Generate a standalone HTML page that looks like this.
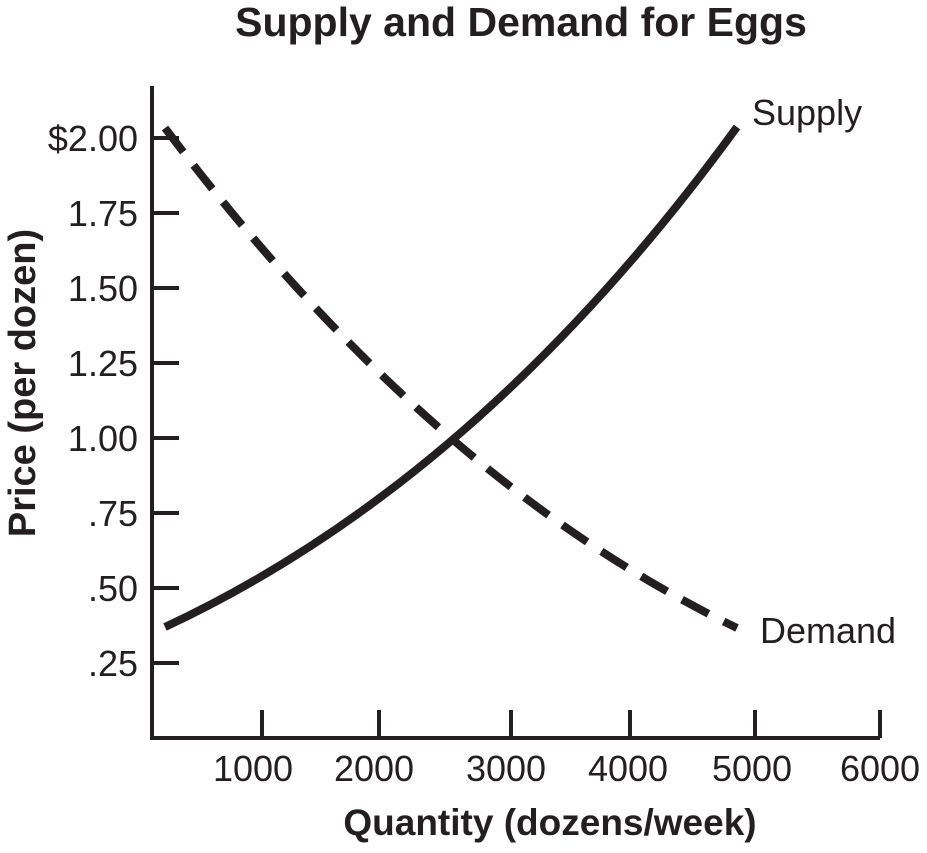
<!DOCTYPE html>
<html><head><style>body{margin:0;background:#fff}</style></head><body>
<svg width="927" height="848" xmlns="http://www.w3.org/2000/svg" font-family="Liberation Sans, Arial, sans-serif" fill="#231f20">
<text x="521" y="36" font-size="41" font-weight="bold" text-anchor="middle">Supply and Demand for Eggs</text>
<g stroke="#231f20" stroke-width="4" fill="none">
<path d="M152 86 V738 H880"/>
<path d="M152 138H179M152 213H179M152 288H179M152 363H179M152 438H179M152 513H179M152 588H179M152 663H179"/>
<path d="M262 738V710M379 738V710M511 738V710M630 738V710M755 738V710M880 738V710"/>
</g>
<g font-size="36" text-anchor="end">
<text x="138" y="151">$2.00</text><text x="138" y="226">1.75</text><text x="138" y="301">1.50</text>
<text x="138" y="376">1.25</text><text x="138" y="451">1.00</text><text x="138" y="526">.75</text>
<text x="138" y="601">.50</text><text x="138" y="676">.25</text>
</g>
<g font-size="36" text-anchor="middle">
<text x="253" y="781">1000</text><text x="374" y="781">2000</text><text x="506" y="781">3000</text>
<text x="628" y="781">4000</text><text x="752" y="781">5000</text><text x="880" y="781">6000</text>
</g>
<text x="550" y="835" font-size="37" font-weight="bold" text-anchor="middle">Quantity (dozens/week)</text>
<text transform="translate(35 383) rotate(-90)" font-size="38" font-weight="bold" text-anchor="middle">Price (per dozen)</text>
<path d="M165 627 Q480 480 737 127" stroke="#231f20" stroke-width="8" fill="none"/>
<path d="M165 128 Q430 480 737 628" stroke="#231f20" stroke-width="8" fill="none" stroke-dasharray="30 17"/>
<text x="752" y="125" font-size="36">Supply</text>
<text x="760" y="643" font-size="36">Demand</text>
</svg>
</body></html>
